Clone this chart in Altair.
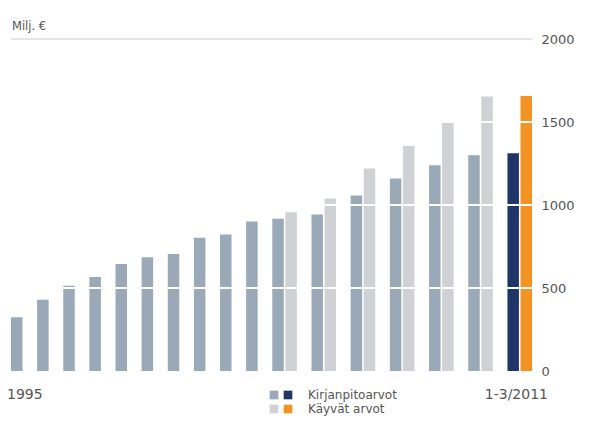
import altair as alt
import pandas as pd

# ---- data ----
periods = ["1995", "1996", "1997", "1998", "1999", "2000", "2001", "2002", "2003",
           "2004", "2005", "2006", "2007", "2008", "2009", "2010", "1-3/2011"]
book_values = [324, 429, 514, 566, 645, 685, 705, 802, 822,
               900, 917, 943, 1057, 1160, 1239, 1299, 1311]
market_values = [None, None, None, None, None, None, None, None, None,
                 None, 957, 1039, 1220, 1355, 1500, 1654, 1657]
y_ticks = [0, 500, 1000, 1500, 2000]
white_lines = [500, 1000, 1500]
legend_labels = ["Kirjanpitoarvot", "Käyvät arvot"]

FONT = "DejaVu Sans"
TXT = "#555555"

# ---- build bar table + slot domain (each period is a group, followed by a gap slot) ----
rows, slots = [], []
last = periods[-1]
for i, p in enumerate(periods):
    cur = (p == last)
    rows.append({"slot": p + "|K", "period": p, "value": book_values[i],
                 "kind": "book_cur" if cur else "book"})
    slots.append(p + "|K")
    if market_values[i] is not None:
        rows.append({"slot": p + "|M", "period": p, "value": market_values[i],
                     "kind": "market_cur" if cur else "market"})
        slots.append(p + "|M")
    if not cur:
        slots.append(p + "|gap")
bars_df = pd.DataFrame(rows)

color_scale = alt.Scale(domain=["book", "market", "book_cur", "market_cur"],
                        range=["#99a9b7", "#cfd1d4", "#1f3567", "#f39323"])

x_enc = alt.X("slot:N", scale=alt.Scale(domain=slots, paddingInner=0.12, paddingOuter=0),
              axis=None)
y_scale = alt.Scale(domain=[0, 2000], nice=False)

bars = alt.Chart(bars_df).mark_bar().encode(
    x=x_enc,
    y=alt.Y("value:Q", scale=y_scale,
            axis=alt.Axis(orient="right", values=y_ticks, grid=False, domain=False,
                          ticks=False, labelPadding=9, labelFont=FONT, labelFontSize=13,
                          labelColor=TXT, title=None, format="d")),
    color=alt.Color("kind:N", scale=color_scale, legend=None),
)

white_rules = alt.Chart(pd.DataFrame({"v": white_lines})).mark_rule(
    color="white", strokeWidth=2).encode(y=alt.Y("v:Q", scale=y_scale, axis=None))

top_rule = alt.Chart(pd.DataFrame({"v": [y_ticks[-1]]})).mark_rule(
    color="#e6e6e6", strokeWidth=2).encode(y=alt.Y("v:Q", scale=y_scale, axis=None))

unit_text = alt.Chart(pd.DataFrame({"t": ["Milj. €"]})).mark_text(
    align="left", baseline="middle", font=FONT, fontSize=11.5,
    color=TXT).encode(x=alt.value(1), y=alt.value(-12), text="t:N")

first_label = alt.Chart(pd.DataFrame({"t": [periods[0]]})).mark_text(
    align="left", baseline="middle", font=FONT, fontSize=14, color=TXT
).encode(x=alt.value(-4), y=alt.value(356), text="t:N")

last_label = alt.Chart(pd.DataFrame({"t": [periods[-1]]})).mark_text(
    align="right", baseline="middle", font=FONT, fontSize=14, color=TXT
).encode(x=alt.value(537), y=alt.value(356), text="t:N")

leg_sq = pd.DataFrame({
    "kind": ["book", "book_cur", "market", "market_cur"],
    "row": [0, 0, 1, 1], "col": [0, 1, 0, 1],
})
legend_squares = alt.Chart(leg_sq).mark_square(size=75, opacity=1).encode(
    x=alt.X("col:Q", scale=alt.Scale(domain=[0, 1], range=[263, 277]), axis=None),
    y=alt.Y("row:Q", scale=alt.Scale(domain=[0, 1], range=[356, 370]), axis=None),
    color=alt.Color("kind:N", scale=color_scale, legend=None),
)
legend_text = alt.Chart(pd.DataFrame({"t": legend_labels, "row": [0, 1]})).mark_text(
    align="left", baseline="middle", font=FONT, fontSize=12, color=TXT
).encode(
    x=alt.value(297),
    y=alt.Y("row:Q", scale=alt.Scale(domain=[0, 1], range=[356, 370]), axis=None),
    text="t:N",
)

chart = alt.layer(
    top_rule, bars, white_rules, unit_text, first_label, last_label,
    legend_squares, legend_text
).resolve_scale(y="independent", x="independent", color="shared").properties(
    width=521, height=332,
    padding={"left": 11, "top": 39, "right": 63, "bottom": 52},
    autosize=alt.AutoSizeParams(type="none"),
    background="white",
).configure_view(stroke=None)

chart.save("out.html", embed_options={"renderer": "svg", "actions": False})
